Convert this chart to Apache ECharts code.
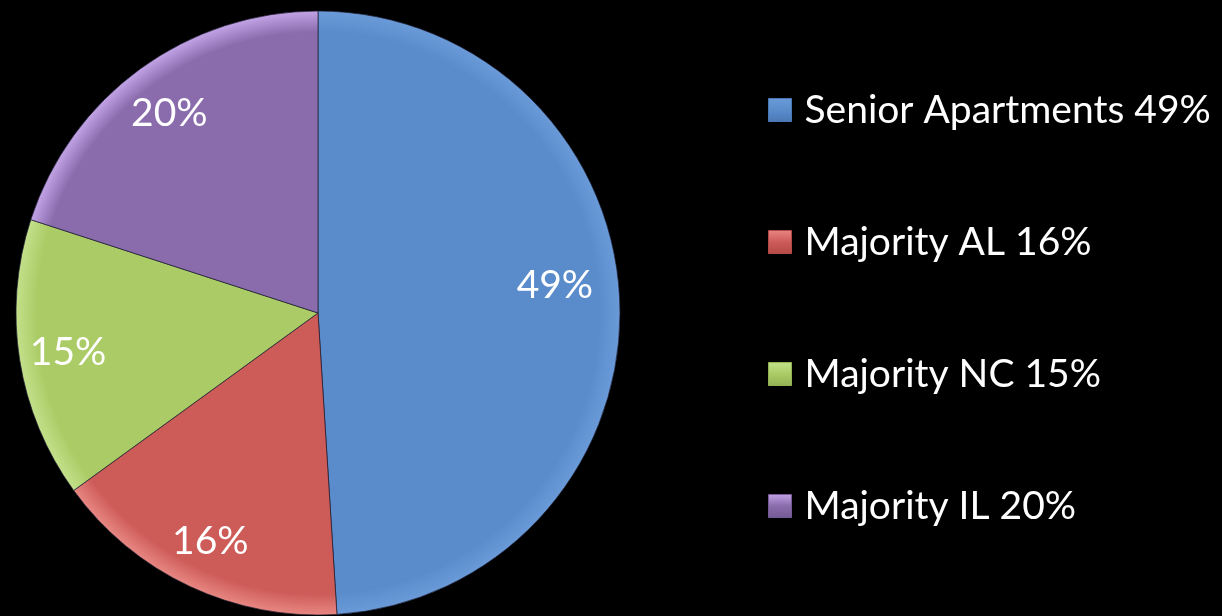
<!DOCTYPE html>
<html>
<head>
<meta charset="utf-8">
<style>
  html, body { margin: 0; padding: 0; background: #000; }
  #chart { width: 1222px; height: 616px; }
</style>
<script src="https://cdn.jsdelivr.net/npm/echarts@6/dist/echarts.min.js"></script>
</head>
<body>
<div id="chart"></div>
<script>
// Share of communities by type (percent)
const categories = ['Senior Apartments', 'Majority AL', 'Majority NC', 'Majority IL'];
const shares = [49, 16, 15, 20];

// Base fill, rim highlight and edge shade for each slice
const baseColors = ['#5a8ccc', '#cd5b58', '#abcb66', '#8a6cad'];
const rimColors  = ['#6a9ad8', '#e88782', '#c3e08a', '#c2a3e6'];
const darkColors = ['#4a78b4', '#b34a47', '#93b254', '#745a95'];

const CX = 318, CY = 313, R = 302;

function sliceFill(i) {
  return {
    type: 'radial', x: CX, y: CY, r: R, global: true,
    colorStops: [
      { offset: 0, color: baseColors[i] },
      { offset: 0.93, color: baseColors[i] },
      { offset: 1, color: rimColors[i] }
    ]
  };
}

function iconFill(i) {
  return {
    type: 'linear', x: 0, y: 0, x2: 0, y2: 1,
    colorStops: [
      { offset: 0, color: rimColors[i] },
      { offset: 0.5, color: baseColors[i] },
      { offset: 1, color: darkColors[i] }
    ]
  };
}

const pieData = categories.map((name, i) => ({
  name: name,
  value: shares[i],
  itemStyle: { color: sliceFill(i) }
}));

// Transparent ring used only to place the percentage labels
const labelData = categories.map((name, i) => ({
  name: name,
  value: shares[i],
  label: i === 0 ? { offset: [-16, -20] } : (i === 3 ? { offset: [0, 5] } : {})
}));

const chart = echarts.init(document.getElementById('chart'), null, { renderer: 'canvas' });

chart.setOption({
  backgroundColor: '#000000',
  animation: false,
  legend: {
    orient: 'vertical',
    left: 763,
    top: 84,
    itemWidth: 23,
    itemHeight: 23,
    itemGap: 90,
    icon: 'rect',
    data: categories.map((name, i) => ({
      name: name,
      itemStyle: { color: iconFill(i), borderColor: darkColors[i], borderWidth: 1 }
    })),
    formatter: function (name) {
      const i = categories.indexOf(name);
      return name + ' ' + shares[i] + '%';
    },
    textStyle: {
      color: '#ffffff',
      fontFamily: 'Lato, "Open Sans", sans-serif',
      fontSize: 39,
      lineHeight: 42,
      padding: [0, 0, 0, 8]
    }
  },
  series: [
    {
      type: 'pie',
      center: [CX, CY],
      radius: [0, R],
      startAngle: 90,
      clockwise: true,
      silent: true,
      label: { show: false },
      labelLine: { show: false },
      itemStyle: { borderColor: 'rgba(30,30,50,0.7)', borderWidth: 1 },
      data: pieData
    },
    {
      type: 'pie',
      center: [CX, CY],
      radius: [198, R],
      startAngle: 90,
      clockwise: true,
      silent: true,
      itemStyle: { color: 'rgba(0,0,0,0)', borderWidth: 0 },
      label: {
        show: true,
        position: 'inside',
        formatter: '{c}%',
        color: '#ffffff',
        fontFamily: 'Lato, "Open Sans", sans-serif',
        fontSize: 39
      },
      labelLine: { show: false },
      data: labelData
    }
  ]
});
</script>
</body>
</html>
